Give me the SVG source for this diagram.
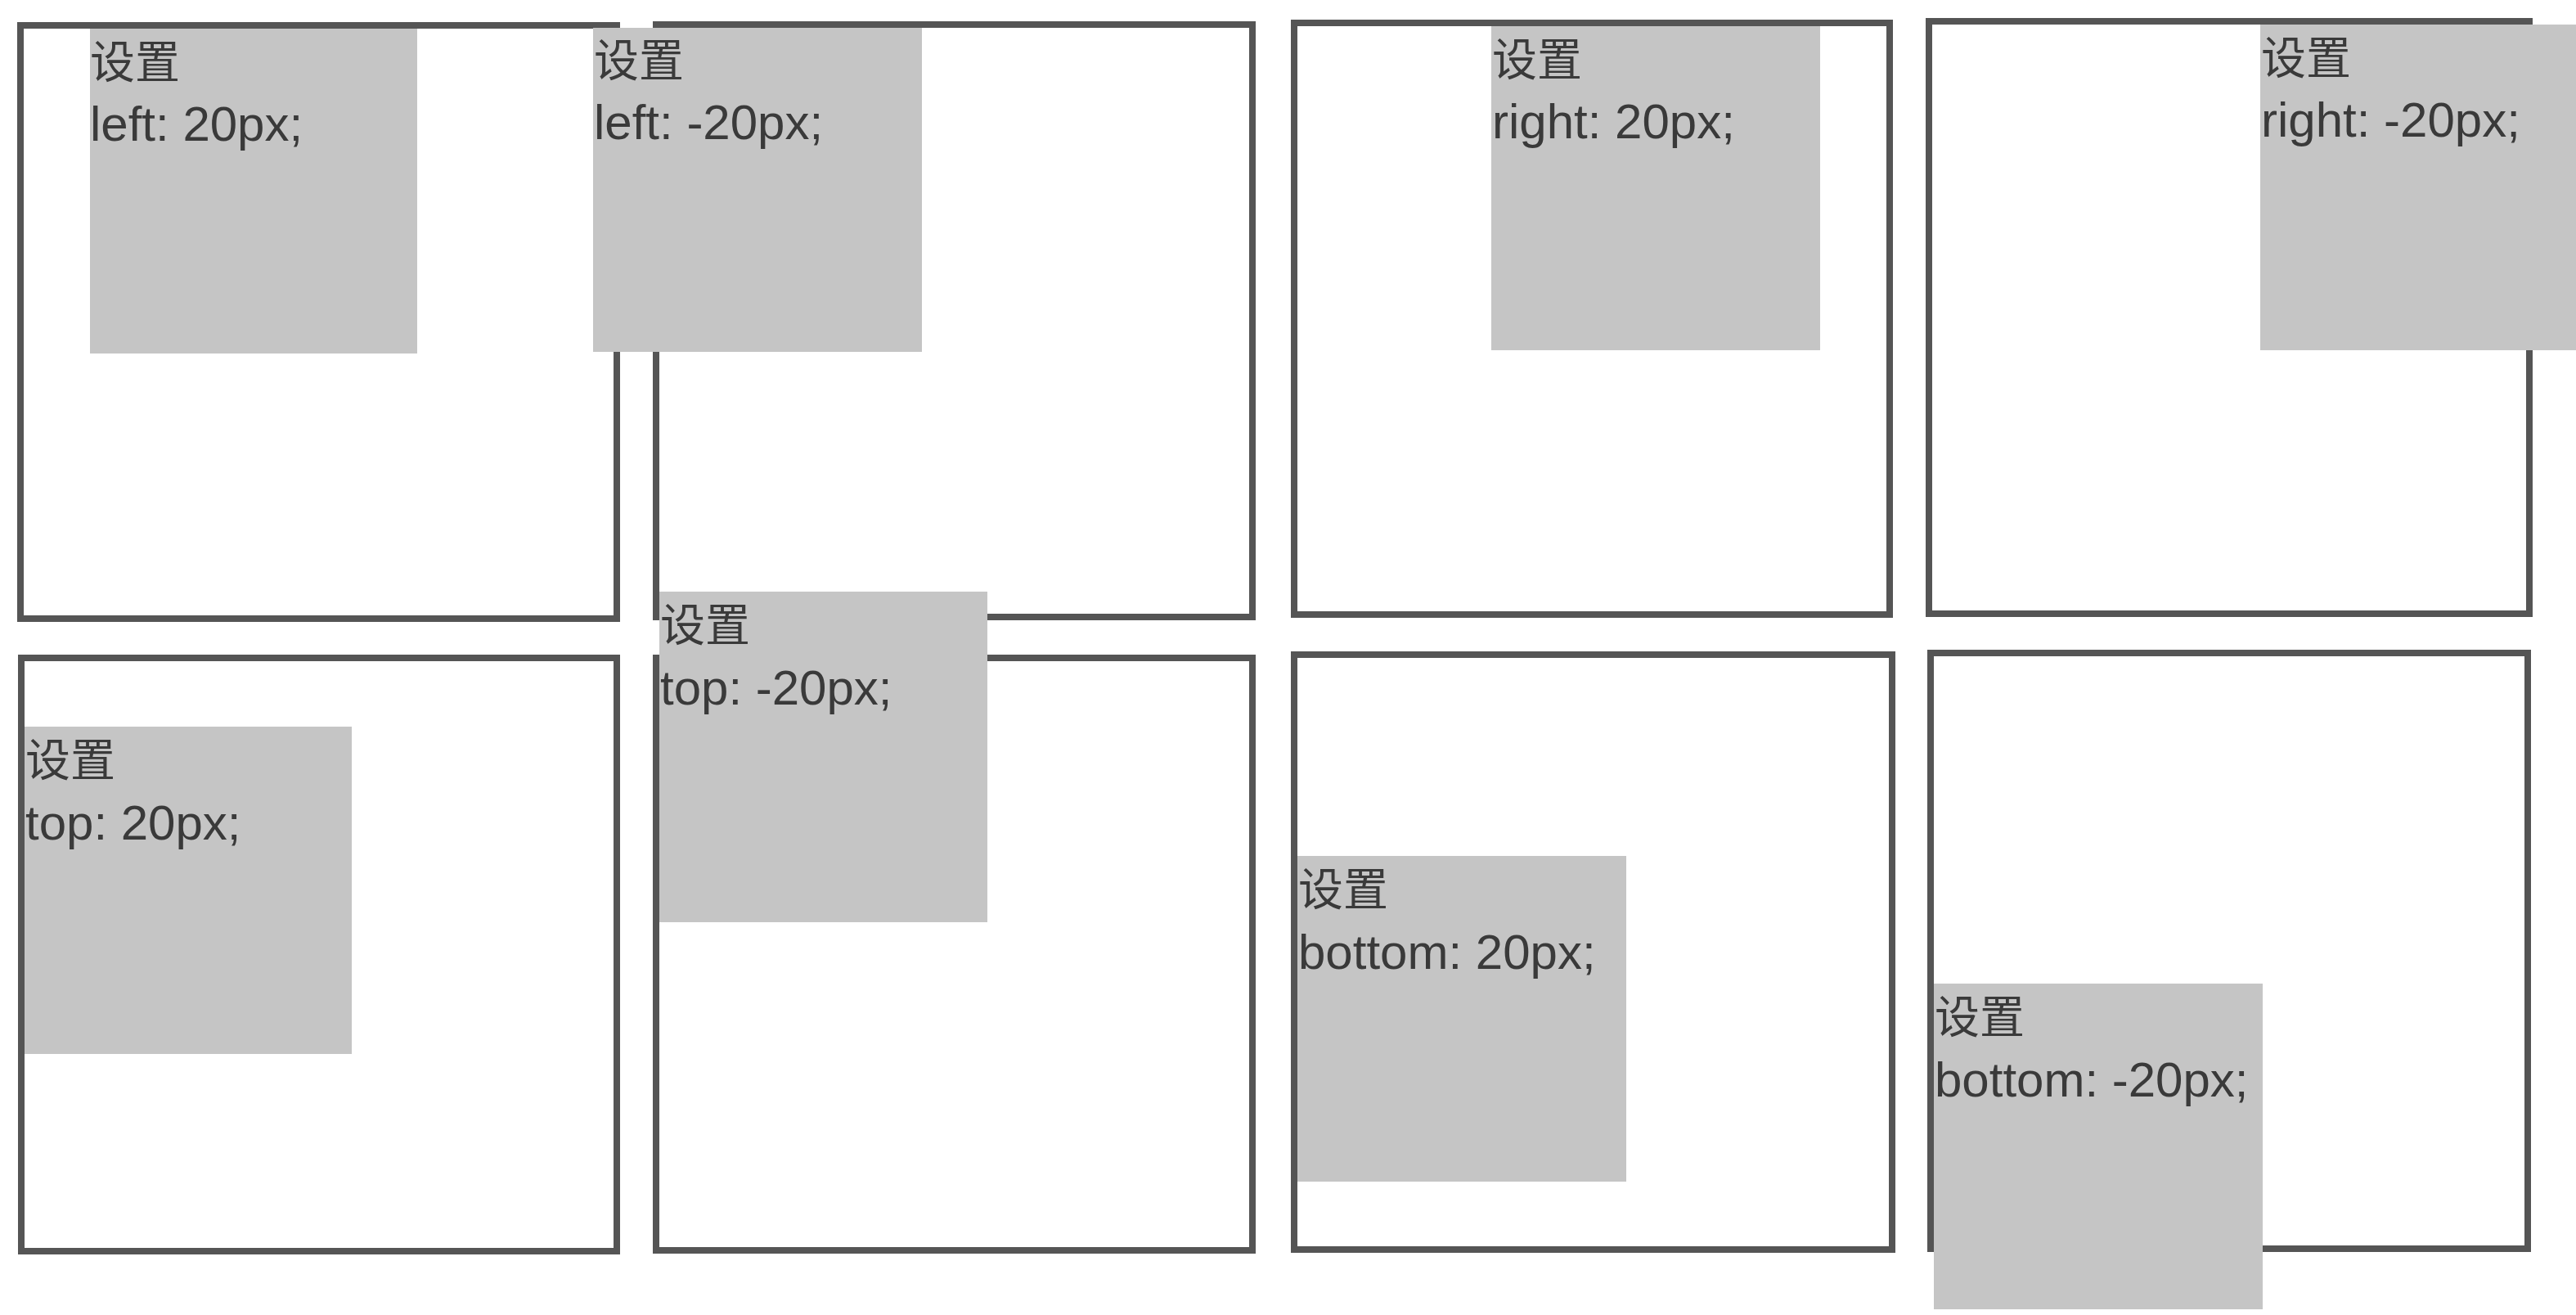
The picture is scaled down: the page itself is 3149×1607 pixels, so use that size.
<svg xmlns="http://www.w3.org/2000/svg" width="3149" height="1607" viewBox="0 0 3149 1607">
<style>
.frame{fill:none;stroke:#555555;stroke-width:8}
.pos{fill:#c5c5c5}
.lbl{font-family:"Liberation Sans","Noto Sans CJK SC",sans-serif;font-size:60px;fill:#3a3a3a}
.cjk{font-family:"Noto Sans CJK SC","Liberation Sans",sans-serif;font-size:55px}
</style>
<rect width="3149" height="1607" fill="#ffffff"/>
<g id="connectors"></g>
<g id="node-left-pos">
<rect class="frame" x="25" y="31" width="729" height="725"/>
<rect class="pos" x="110" y="35" width="400" height="397"/>
<text class="lbl"><tspan class="cjk" x="110" y="95">设置</tspan><tspan x="110" y="172">left: 20px;</tspan></text>
</g>
<g id="node-left-neg">
<rect class="frame" x="802" y="30" width="729" height="724"/>
<rect class="pos" x="725" y="34" width="402" height="396"/>
<text class="lbl"><tspan class="cjk" x="726" y="93">设置</tspan><tspan x="726" y="170">left: -20px;</tspan></text>
</g>
<g id="node-right-pos">
<rect class="frame" x="1582" y="28" width="728" height="723"/>
<rect class="pos" x="1823" y="32" width="402" height="396"/>
<text class="lbl"><tspan class="cjk" x="1824" y="92">设置</tspan><tspan x="1824" y="169">right: 20px;</tspan></text>
</g>
<g id="node-right-neg">
<rect class="frame" x="2358" y="26" width="734" height="724"/>
<rect class="pos" x="2763" y="30" width="402" height="398"/>
<text class="lbl"><tspan class="cjk" x="2764" y="90">设置</tspan><tspan x="2764" y="167">right: -20px;</tspan></text>
</g>
<g id="node-top-pos">
<rect class="frame" x="26" y="804" width="728" height="725"/>
<rect class="pos" x="30" y="888" width="400" height="400"/>
<text class="lbl"><tspan class="cjk" x="31" y="948">设置</tspan><tspan x="31" y="1026">top: 20px;</tspan></text>
</g>
<g id="node-top-neg">
<rect class="frame" x="802" y="804" width="729" height="724"/>
<rect class="pos" x="806" y="723" width="401" height="404"/>
<text class="lbl"><tspan class="cjk" x="807" y="783">设置</tspan><tspan x="807" y="861">top: -20px;</tspan></text>
</g>
<g id="node-bottom-pos">
<rect class="frame" x="1582" y="800" width="731" height="727"/>
<rect class="pos" x="1586" y="1046" width="402" height="398"/>
<text class="lbl"><tspan class="cjk" x="1587" y="1106">设置</tspan><tspan x="1587" y="1184">bottom: 20px;</tspan></text>
</g>
<g id="node-bottom-neg">
<rect class="frame" x="2360" y="798" width="730" height="728"/>
<rect class="pos" x="2364" y="1202" width="402" height="398"/>
<text class="lbl"><tspan class="cjk" x="2365" y="1262">设置</tspan><tspan x="2365" y="1340">bottom: -20px;</tspan></text>
</g>
</svg>
